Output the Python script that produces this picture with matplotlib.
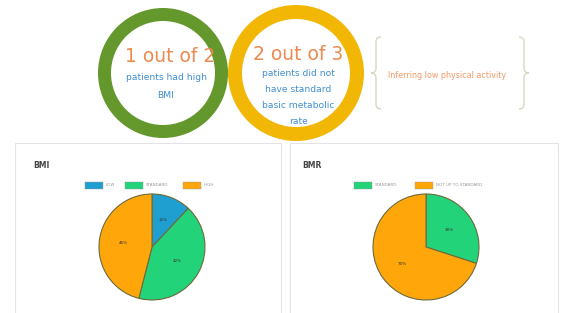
import matplotlib
matplotlib.use("Agg")
import matplotlib.pyplot as plt
from matplotlib.patches import Wedge, Circle, Rectangle, PathPatch
from matplotlib.path import Path

# ---- data ----
bmi_labels = ["LOW", "STANDARD", "HIGH"]
bmi_values = [12, 42, 46]
bmi_colors = ["#1f9fd0", "#22d37a", "#ffa60a"]

bmr_labels = ["STANDARD", "NOT UP TO STANDARD"]
bmr_values = [30, 70]
bmr_colors = ["#22d37a", "#ffa60a"]

W, H = 565, 313
fig = plt.figure(figsize=(W / 100, H / 100), dpi=100)
fig.patch.set_facecolor("white")

bg = fig.add_axes([0, 0, 1, 1])
bg.set_xlim(0, W)
bg.set_ylim(H, 0)
bg.axis("off")

font = ["DejaVu Sans"]
orange_txt = "#ec8a50"
blue_txt = "#3f8fd2"

# rings
bg.add_patch(Wedge((163, 73), 65, 0, 360, width=13, facecolor="#64982c", edgecolor="none"))
bg.add_patch(Circle((296, 73), 60, facecolor="white", edgecolor="none"))
bg.add_patch(Wedge((296, 73), 68, 0, 360, width=14, facecolor="#f2b705", edgecolor="none"))

bg.text(170, 56, "1 out of 2", color=orange_txt, fontsize=13.5, ha="center", va="center", family=font)
bg.text(167, 78, "patients had high", color=blue_txt, fontsize=6.6, ha="center", va="center", family=font)
bg.text(165, 96, "BMI", color=blue_txt, fontsize=6.6, ha="center", va="center", family=font)

bg.text(298, 55, "2 out of 3", color=orange_txt, fontsize=13.5, ha="center", va="center", family=font)
for y, s in [(74, "patients did not"), (89, "have standard"), (105, "basic metabolic"), (121, "rate")]:
    bg.text(298, y, s, color=blue_txt, fontsize=6.6, ha="center", va="center", family=font)


def brace(x, top, bot, d):
    mid = (top + bot) / 2
    verts = [(x + d, top), (x, top), (x, top + 5), (x, mid - 5), (x, mid), (x - d, mid),
             (x, mid), (x, mid + 5), (x, bot - 5), (x, bot), (x + d, bot)]
    codes = [Path.MOVETO, Path.CURVE3, Path.CURVE3, Path.LINETO, Path.CURVE3, Path.CURVE3,
             Path.CURVE3, Path.CURVE3, Path.LINETO, Path.CURVE3, Path.CURVE3]
    bg.add_patch(PathPatch(Path(verts, codes), facecolor="none", edgecolor="#d3d8c0", lw=1.0))


brace(376, 37, 109, 5)
brace(524, 37, 109, -5)
bg.text(447, 75, "Inferring low physical activity", color="#f09a66", fontsize=5.8,
        ha="center", va="center", family=font)

# cards
for x0, x1 in [(15, 281), (290, 558)]:
    bg.add_patch(Rectangle((x0, 143), x1 - x0, 180, facecolor="white", edgecolor="#e3e3e3", lw=0.8))

bg.text(33, 166, "BMI", color="#444444", fontsize=5.5, fontweight="bold", ha="left", va="center", family=font)
bg.text(302, 166, "BMR", color="#444444", fontsize=5.5, fontweight="bold", ha="left", va="center", family=font)


def legend(xs, labels, colors, y=185):
    for x, lab, c in zip(xs, labels, colors):
        bg.add_patch(Rectangle((x, y - 3), 18, 6.5, facecolor=c, edgecolor="#999999", lw=0.3))
        bg.text(x + 21, y, lab, color="#999999", fontsize=3, ha="left", va="center", family=font)


legend([85, 125, 183], bmi_labels, bmi_colors)
legend([354, 415], bmr_labels, bmr_colors)


def pie(cx, cy, r, values, colors):
    s = 2 * r * 1.04
    ax = fig.add_axes([(cx - s / 2) / W, 1 - (cy + s / 2) / H, s / W, s / H])
    ax.pie(values, colors=colors, startangle=90, counterclock=False,
           autopct=lambda p: f"{p:.0f}%", pctdistance=0.55,
           wedgeprops=dict(edgecolor="#6b6b3a", linewidth=0.8),
           textprops=dict(fontsize=3, color="#333333"))
    ax.set_xlim(-1.04, 1.04)
    ax.set_ylim(-1.04, 1.04)
    ax.set_aspect("equal")
    ax.axis("off")


pie(152, 247, 53, bmi_values, bmi_colors)
pie(426, 247, 53, bmr_values, bmr_colors)

fig.savefig("out.png", dpi=100, facecolor="white")
